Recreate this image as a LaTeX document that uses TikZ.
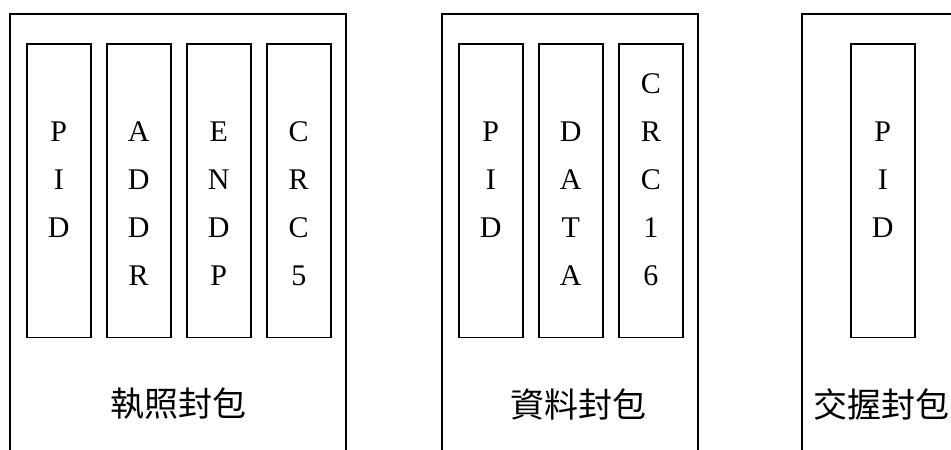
\documentclass[tikz,border=0pt]{standalone}
\usepackage{fontspec}
\setmainfont{Liberation Serif}
\newfontfamily\cjkfont{Noto Sans CJK TC}
\begin{document}
\begin{tikzpicture}[x=1pt,y=-1pt,
  outerline/.style={line width=1.5pt},
  field/.style={draw,line width=1.5pt,rectangle,minimum width=64pt,minimum height=293.5pt,inner sep=0pt,anchor=north west},
  letter/.style={font=\fontsize{30}{30}\selectfont,anchor=base,inner sep=0pt},
  pktlabel/.style={font=\cjkfont\fontsize{34}{34}\selectfont,anchor=center,inner sep=0pt}]
\useasboundingbox (0,0) rectangle (951,450);
% outer frames
\draw[outerline] (10,450) -- (10,14) -- (346,14) -- (346,450);
\draw[outerline] (442,450) -- (442,14) -- (698,14) -- (698,450);
\draw[outerline] (802,450) -- (802,14) -- (951,14);
% field boxes
\node[field] (t1) at (26,43) {};
\node[field] (t2) at (106,43) {};
\node[field] (t3) at (186,43) {};
\node[field] (t4) at (266,43) {};
\node[field] (d1) at (458,43) {};
\node[field] (d2) at (538,43) {};
\node[field] (d3) at (618,43) {};
\node[field] (h1) at (850,43) {};
% letters
\foreach \b/\s/\w in {t1/1/{P,I,D},t2/1/{A,D,D,R},t3/1/{E,N,D,P},t4/1/{C,R,C,5},d1/1/{P,I,D},d2/1/{D,A,T,A},d3/0/{C,R,C,1,6},h1/1/{P,I,D}}{
  \foreach \ch [count=\k from \s] in \w {
    \node[letter] (\b-\k) at ([yshift=-(83.5+48*\k+10)*1pt]\b.north |- 0,0) {\ch};
  }
}
% labels
\node[pktlabel] (lt) at (178,404) {執照封包};
\node[pktlabel] (ld) at (578,404) {資料封包};
\node[pktlabel] (lh) at (881,404) {交握封包};
\end{tikzpicture}
\end{document}
